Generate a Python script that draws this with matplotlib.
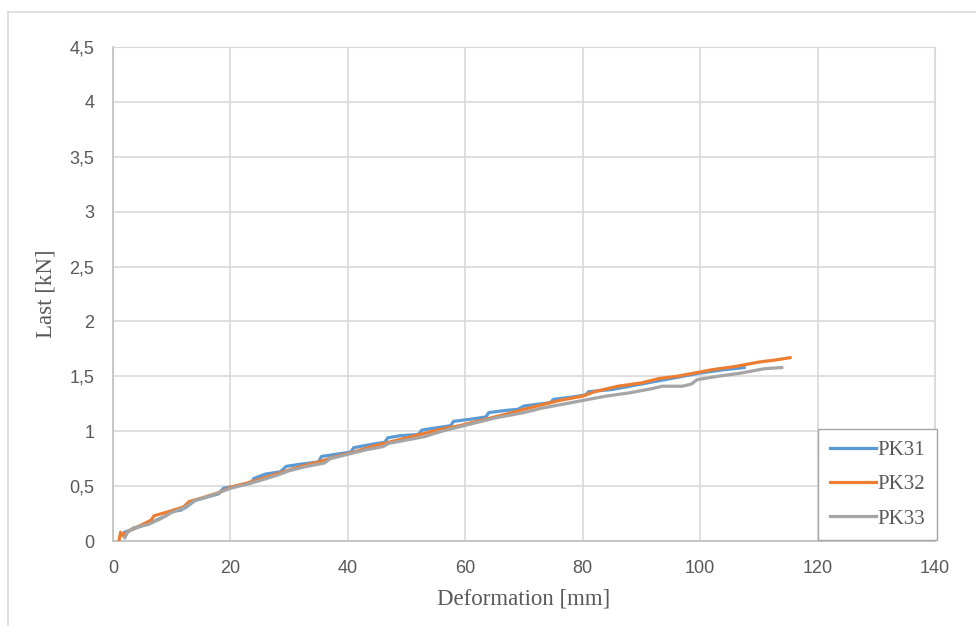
import matplotlib
matplotlib.use("Agg")
from matplotlib import pyplot as plt
from matplotlib.lines import Line2D
from matplotlib.ticker import FuncFormatter

pk31_x = [2, 3, 5, 7, 9, 10, 11.5, 12.5, 14, 16, 18, 18.8, 21, 23.5, 24, 26, 28.5, 29.5,
          32, 35, 35.5, 38, 40.5, 41, 44, 46.3, 46.8, 49, 52, 52.6, 55, 57.5, 58, 61,
          63.5, 64, 67, 69, 70, 73, 74.5, 75, 78, 80.5, 81, 85, 88, 92, 95, 98, 100,
          104, 107.5]
pk31_y = [0.08, 0.1, 0.14, 0.18, 0.23, 0.27, 0.28, 0.31, 0.37, 0.4, 0.43, 0.48, 0.5, 0.53,
          0.57, 0.61, 0.63, 0.68, 0.7, 0.72, 0.77, 0.79, 0.81, 0.85, 0.88, 0.9, 0.94,
          0.96, 0.97, 1.01, 1.03, 1.05, 1.09, 1.11, 1.13, 1.17, 1.19, 1.2, 1.23, 1.25,
          1.26, 1.29, 1.31, 1.33, 1.36, 1.38, 1.41, 1.45, 1.48, 1.51, 1.53, 1.56, 1.58]

pk32_x = [1, 1.3, 1.6, 3, 5, 6.5, 7, 9, 12, 13, 15, 18, 20, 23, 26, 29, 32, 35, 38, 41,
          44, 47, 50, 53, 56, 59, 62, 65, 68, 70, 73, 76, 80, 82, 86, 90, 93, 96, 99,
          102, 106, 110, 113, 115.3]
pk32_y = [0.0, 0.08, 0.05, 0.1, 0.15, 0.19, 0.23, 0.26, 0.31, 0.36, 0.39, 0.44, 0.49,
          0.53, 0.58, 0.63, 0.68, 0.72, 0.77, 0.81, 0.86, 0.9, 0.94, 0.98, 1.02, 1.05,
          1.09, 1.13, 1.17, 1.2, 1.24, 1.28, 1.32, 1.36, 1.41, 1.44, 1.48, 1.5, 1.53,
          1.56, 1.59, 1.63, 1.65, 1.67]

pk33_x = [2, 2.5, 3.5, 6, 8, 10, 12, 14, 17, 20, 23, 25, 28, 30, 33, 36, 37, 40, 43, 46,
          47, 50, 53, 56, 59, 62, 65, 68, 70, 73, 76, 80, 84, 88, 92, 93.5, 97, 98.5,
          99.5, 103, 107, 111, 113.9]
pk33_y = [0.03, 0.08, 0.12, 0.15, 0.2, 0.26, 0.3, 0.37, 0.42, 0.48, 0.52, 0.55, 0.6,
          0.64, 0.68, 0.71, 0.75, 0.79, 0.83, 0.86, 0.89, 0.92, 0.95, 1.0, 1.04, 1.08,
          1.12, 1.15, 1.17, 1.21, 1.24, 1.28, 1.32, 1.35, 1.39, 1.41, 1.41, 1.43, 1.47,
          1.5, 1.53, 1.57, 1.58]

serif = ['Liberation Serif', 'DejaVu Serif']
sans = ['Liberation Sans', 'DejaVu Sans']

fig = plt.figure(figsize=(9.76, 6.26), dpi=100)
ax = fig.add_axes([113 / 976, 1 - 541 / 626, 822 / 976, 494 / 626])

# aeusserer Diagrammrahmen
fig.add_artist(Line2D([8 / 976, 8 / 976], [0, 1 - 12 / 626], color='#d9d9d9', lw=1.2))
fig.add_artist(Line2D([8 / 976, 1], [1 - 12 / 626, 1 - 12 / 626], color='#d9d9d9', lw=1.2))

ax.plot(pk31_x, pk31_y, color='#5b9bd5', lw=2.3, label='PK31', zorder=3)
ax.plot(pk32_x, pk32_y, color='#ed7d31', lw=2.3, label='PK32', zorder=4)
ax.plot(pk33_x, pk33_y, color='#a5a5a5', lw=2.3, label='PK33', zorder=5)

ax.set_xlim(0, 140)
ax.set_ylim(0, 4.5)
ax.set_xticks(range(0, 141, 20))
ax.set_yticks([i * 0.5 for i in range(10)])
ax.yaxis.set_major_formatter(FuncFormatter(lambda v, p: ('%g' % v).replace('.', ',')))
ax.grid(True, color='#d9d9d9', lw=1.2)
ax.set_axisbelow(True)
for s in ['top', 'right']:
    ax.spines[s].set_color('#d9d9d9')
for s in ['left', 'bottom']:
    ax.spines[s].set_color('#bfbfbf')
    ax.spines[s].set_linewidth(1.2)
ax.tick_params(length=0, labelsize=13, labelcolor='#595959')
ax.tick_params(axis='y', pad=13.5)
ax.tick_params(axis='x', pad=14)
for lab in ax.get_xticklabels() + ax.get_yticklabels():
    lab.set_family(sans)

ax.set_xlabel('Deformation [mm]', fontsize=16.5, family=serif, color='#595959', labelpad=8)
ax.set_ylabel('Last [kN]', fontsize=16.5, family=serif, color='#595959', labelpad=9)

leg = ax.legend(loc='lower right', bbox_to_anchor=(1.0024, 0.002), borderaxespad=0,
                prop={'family': serif, 'size': 15}, fancybox=False, framealpha=1,
                edgecolor='#a6a6a6', handlelength=2.2, handletextpad=0.1,
                labelspacing=0.7, borderpad=0.55)
for t in leg.get_texts():
    t.set_color('#595959')
leg.set_zorder(10)

plt.savefig('out.png', dpi=100)
